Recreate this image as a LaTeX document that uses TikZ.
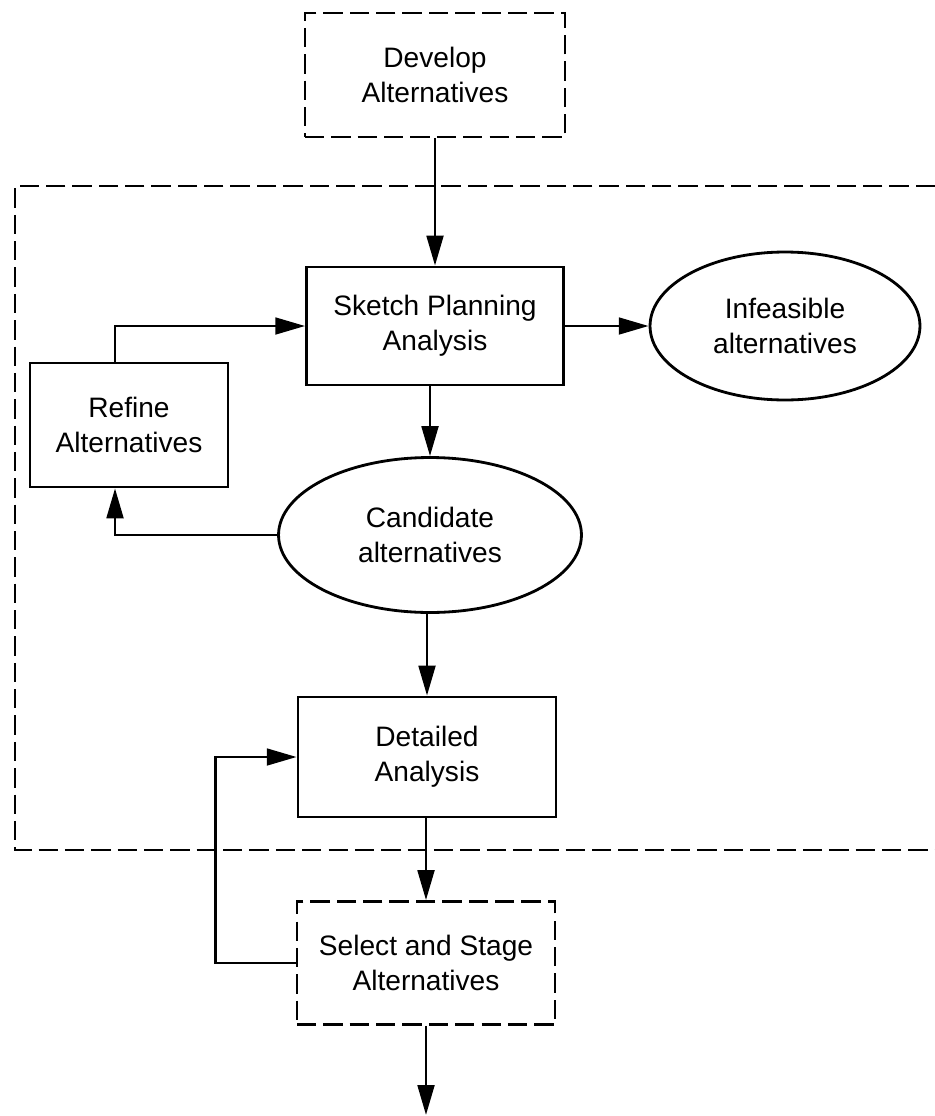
\documentclass[tikz,border=0pt]{standalone}
\usepackage{fontspec}
\setmainfont{Liberation Sans}
\usetikzlibrary{shapes.geometric,arrows.meta}

\begin{document}
\begin{tikzpicture}[x=0.02cm, y=-0.02cm,
        every node/.style={font=\fontsize{16}{20}\selectfont, align=center},
        box/.style={draw, line width=1.6pt, inner sep=0pt},
        dashbox/.style={box, dash pattern=on 11pt off 4pt},
        oval/.style={draw, ellipse, line width=1.6pt, inner sep=0pt},
        flow/.style={line width=1.6pt, -{Triangle[length=17pt,width=9.5pt]}},
        groupline/.style={line width=1.6pt, dash pattern=on 11pt off 4pt}]
            \useasboundingbox (0,0) rectangle (935,1116);

            % outer dashed frame
            \draw[groupline] (935,186) -| (15,850) -- (935,850);

            \node[dashbox, minimum width=5.2cm, minimum height=2.48cm] (develop) at (435,75) {Develop\\Alternatives};
            \node[box, minimum width=5.14cm, minimum height=2.36cm] (sketch) at (435,326) {Sketch Planning\\Analysis};
            \node[oval, minimum width=5.4cm, minimum height=2.96cm] (infeasible) at (785,326) {Infeasible\\alternatives};
            \node[box, minimum width=3.96cm, minimum height=2.48cm] (refine) at (129,425) {Refine\\Alternatives};
            \node[oval, minimum width=6.06cm, minimum height=3.1cm] (candidate) at (430,535) {Candidate\\alternatives};
            \node[box, minimum width=5.16cm, minimum height=2.4cm] (detailed) at (427,757) {Detailed\\Analysis};
            \node[dashbox, minimum width=5.16cm, minimum height=2.46cm] (select) at (426,963) {Select and Stage\\Alternatives};
            \coordinate (out) at (422,1115);

            \draw[flow] (develop.south) -- (sketch.north -| develop.south);
            \draw[flow] (sketch.east) -- (infeasible.west);
            \draw[flow] ([xshift=-0.28cm]refine.north) |- (sketch.west);
            \draw[flow] (sketch.south -| candidate.north) -- (candidate.north);
            \draw[flow] (candidate.west) -| ([xshift=-0.28cm]refine.south);
            \draw[flow] (candidate.south -| detailed.north) -- (detailed.north);
            \draw[flow] (detailed.south -| select.north) -- (select.north);
            \draw[flow] (select.west) -- ++(-1.6cm,0) |- (detailed.west);
            \draw[flow] (select.south) -- (out -| select.south);
        \end{tikzpicture}
\end{document}
